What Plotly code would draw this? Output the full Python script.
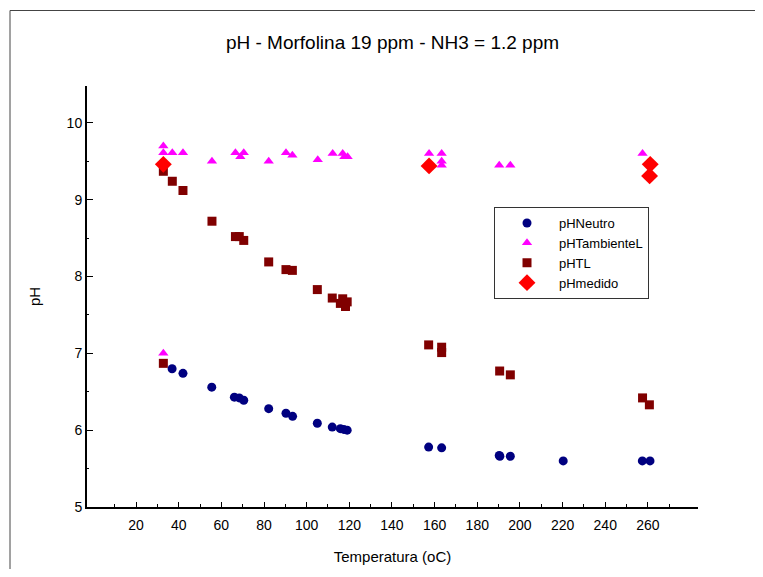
import plotly.graph_objects as go

# ---------------- data ----------------
neutro_T = [36.9, 42.0, 55.5, 66.1, 68.4, 70.5, 82.2, 90.3, 93.4, 105.0, 112.0, 115.8, 117.4, 119.0,
            157.2, 163.3, 190.3, 190.6, 195.5, 220.3, 257.4, 261.0]
neutro_pH = [6.80, 6.74, 6.56, 6.43, 6.42, 6.39, 6.28, 6.22, 6.18, 6.09, 6.04, 6.02, 6.01, 6.00,
             5.78, 5.77, 5.67, 5.66, 5.66, 5.60, 5.60, 5.60]

amb_T = [32.8, 32.8, 37.0, 42.0, 55.6, 66.6, 68.9, 70.5, 82.2, 90.3, 93.3, 105.2, 112.2, 116.9,
         117.7, 119.2, 32.8, 157.4, 163.3, 163.3, 163.3, 190.3, 195.5, 257.5]
amb_pH = [9.70, 9.61, 9.61, 9.61, 9.50, 9.61, 9.56, 9.61, 9.50, 9.61, 9.58, 9.52, 9.60, 9.60,
          9.56, 9.56, 7.00, 9.60, 9.60, 9.50, 9.45, 9.45, 9.45, 9.60]

tl_T = [32.8, 37.0, 42.0, 55.6, 66.6, 68.4, 70.5, 82.2, 90.3, 93.3, 105.0, 112.0, 116.9, 115.8,
        119.0, 118.2, 32.8, 157.2, 163.3, 163.3, 190.5, 195.5, 257.5, 260.7]
tl_pH = [9.37, 9.24, 9.12, 8.72, 8.52, 8.52, 8.47, 8.19, 8.09, 8.08, 7.83, 7.72, 7.71, 7.65,
         7.67, 7.61, 6.87, 7.11, 7.08, 7.01, 6.77, 6.72, 6.42, 6.33]

med_T = [32.8, 157.4, 261.1, 260.8]
med_pH = [9.46, 9.44, 9.46, 9.31]

x_tickvals = [20, 40, 60, 80, 100, 120, 140, 160, 180, 200, 220, 240, 260]
x_minorvals = [10, 30, 50, 70, 90, 110, 130, 150, 170, 190, 210, 230, 250, 270]
y_tickvals = [5, 6, 7, 8, 9, 10]
y_minorvals = [5.5, 6.5, 7.5, 8.5, 9.5, 10.5]

FONT = "Liberation Sans, Arial, sans-serif"

fig = go.Figure()
fig.add_trace(go.Scatter(x=neutro_T, y=neutro_pH, mode="markers", name="pHNeutro",
                         marker=dict(symbol="circle", size=9, color="#000080")))
fig.add_trace(go.Scatter(x=amb_T, y=amb_pH, mode="markers", name="pHTambienteL",
                         marker=dict(symbol="triangle-up", size=9, color="#FF00FF")))
fig.add_trace(go.Scatter(x=tl_T, y=tl_pH, mode="markers", name="pHTL",
                         marker=dict(symbol="square", size=9, color="#800000")))
fig.add_trace(go.Scatter(x=med_T, y=med_pH, mode="markers", name="pHmedido",
                         marker=dict(symbol="diamond", size=13, color="#FF0000")))

OFF = 8  # page body margin
W, H = 763 - 2 * OFF, 577 - 2 * OFF
L, T = 87 - OFF, 86 - OFF
pw, ph = 611, 421
R, B = W - L - pw, H - T - ph

# outer frame (page px 10 -> figure px 2)
fx0, fy0 = 10 - OFF, 10.5 - OFF
fig.add_shape(type="rect", xref="paper", yref="paper",
              x0=(fx0 - L) / pw, x1=(W + 20 - L) / pw,
              y0=-(H + 20 - T - ph) / ph, y1=(ph + T - fy0) / ph,
              line=dict(color="#444444", width=1), layer="below")

fig.update_layout(
    width=W, height=H,
    margin=dict(l=L, r=R, t=T, b=B, autoexpand=False),
    paper_bgcolor="white", plot_bgcolor="white",
    font=dict(family=FONT, size=14, color="black"),
    title=dict(text="pH - Morfolina 19 ppm - NH3 = 1.2 ppm", x=(L + pw / 2) / W, xanchor="center",
               y=1 - (42 - OFF) / H, yanchor="middle", font=dict(size=19, family=FONT)),
    showlegend=True,
    legend=dict(x=(494 - OFF - L) / pw, y=(H - B - (207 - OFF)) / ph, xanchor="left", yanchor="top",
                bgcolor="white", bordercolor="#333333", borderwidth=1,
                font=dict(size=13, family=FONT), itemwidth=54, tracegroupgap=0),
    xaxis=dict(range=[-3, 283.5], showline=True, linecolor="black", linewidth=2,
               ticks="inside", ticklen=5, tickwidth=1, tickcolor="black",
               tickvals=x_tickvals, showgrid=False, zeroline=False, ticklabelstandoff=4,
               automargin=False,
               minor=dict(tickvals=x_minorvals, ticks="inside", ticklen=3, tickcolor="black", showgrid=False),
               title=dict(text="Temperatura (oC)", standoff=20, font=dict(size=15)),
               tickfont=dict(size=14)),
    yaxis=dict(range=[5, 10.48], showline=True, linecolor="black", linewidth=2,
               ticks="inside", ticklen=6, tickwidth=1, tickcolor="black",
               tickvals=y_tickvals, showgrid=False, zeroline=False, automargin=False,
               minor=dict(tickvals=y_minorvals, ticks="inside", ticklen=2, tickcolor="black", showgrid=False),
               title=dict(text="pH", standoff=22, font=dict(size=15)),
               tickfont=dict(size=14)),
)

fig.write_html("out.html")
